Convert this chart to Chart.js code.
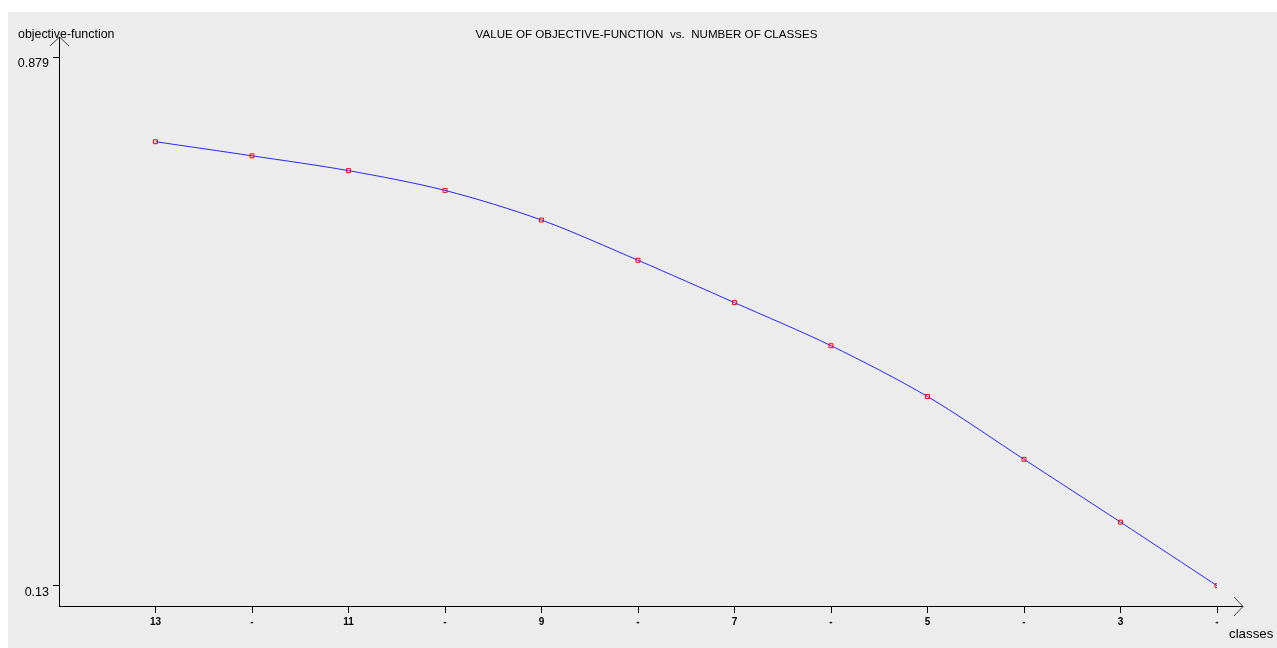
<!DOCTYPE html>
<html>
<head>
<meta charset="utf-8">
<script src="https://cdn.jsdelivr.net/npm/chart.js@4/dist/chart.umd.min.js"></script>
<style>
  html, body { margin: 0; padding: 0; background: #fff; }
  #wrap { position: absolute; left: 8px; top: 12px; width: 1269px; height: 636px; background: #ececec; }
</style>
</head>
<body>
<div id="wrap"><canvas id="objChart"></canvas></div>
<script>
// number of classes, from 13 down to 2
const classes = [13, 12, 11, 10, 9, 8, 7, 6, 5, 4, 3, 2];
const classLabels = ['13', '-', '11', '-', '9', '-', '7', '-', '5', '-', '3', '-'];
const objValues = [0.759, 0.739, 0.718, 0.690, 0.648, 0.591, 0.531, 0.470, 0.398, 0.309, 0.220, 0.130];
const yTicks = [0.13, 0.879];

const FONT = '"Liberation Sans", Arial, sans-serif';

// arrows, axis names and title drawn on top
const decorations = {
  id: 'decorations',
  afterDraw(chart) {
    const { ctx, chartArea: a } = chart;
    ctx.save();
    ctx.strokeStyle = '#000';
    ctx.lineWidth = 1;
    // extend axes to the arrow heads
    ctx.beginPath();
    ctx.moveTo(a.left + 0.5, a.top);
    ctx.lineTo(a.left + 0.5, 25);
    ctx.moveTo(a.right, a.bottom + 0.5);
    ctx.lineTo(1235, a.bottom + 0.5);
    ctx.stroke();
    ctx.strokeStyle = '#444';
    ctx.beginPath();
    ctx.moveTo(a.left - 9, 34);
    ctx.lineTo(a.left + 0.5, 25);
    ctx.lineTo(a.left + 10, 34);
    ctx.moveTo(1226, a.bottom - 9);
    ctx.lineTo(1235, a.bottom + 0.5);
    ctx.lineTo(1226, a.bottom + 10);
    ctx.stroke();

    ctx.fillStyle = '#000';
    ctx.textBaseline = 'middle';
    ctx.font = '12.4px ' + FONT;
    ctx.textAlign = 'left';
    ctx.fillText('objective-function', 10, 23);
    ctx.font = '13.3px ' + FONT;
    ctx.fillText('classes', 1221, 622);
    ctx.font = '11.6px ' + FONT;
    ctx.textAlign = 'center';
    ctx.fillText('VALUE OF OBJECTIVE-FUNCTION  vs.  NUMBER OF CLASSES', 638.5, 23);
    ctx.restore();
  }
};

new Chart(document.getElementById('objChart'), {
  type: 'line',
  data: {
    datasets: [{
      data: classes.map((c, i) => ({ x: i, y: objValues[i] })),
      borderColor: '#2626ff',
      borderWidth: 1,
      tension: 0.3,
      pointStyle: 'rect',
      pointRadius: 2.8,
      pointBorderColor: '#ff0000',
      pointBackgroundColor: 'rgba(0,0,0,0)',
      pointBorderWidth: 1
    }]
  },
  options: {
    responsive: true,
    maintainAspectRatio: false,
    animation: false,
    layout: { padding: { top: 45, right: 60, left: 0, bottom: 0 } },
    plugins: {
      legend: { display: false },
      tooltip: { enabled: false }
    },
    scales: {
      x: {
        type: 'linear',
        min: -1,
        max: 11,
        afterBuildTicks: (scale) => { scale.ticks = classes.map((c, i) => ({ value: i })); },
        afterFit: (scale) => { scale.height = 42; },
        border: { color: '#000', width: 1 },
        grid: { drawOnChartArea: false, color: '#000', tickLength: 7 },
        ticks: {
          color: '#000',
          padding: 3,
          maxRotation: 0,
          autoSkip: false,
          font: { family: FONT, size: 10, weight: 'bold' },
          callback: (v) => classLabels[v]
        }
      },
      y: {
        min: 0.1012,
        max: 0.879,
        afterBuildTicks: (scale) => { scale.ticks = yTicks.map(v => ({ value: v })); },
        afterFit: (scale) => { scale.width = 51; },
        border: { color: '#000', width: 1 },
        grid: { drawOnChartArea: false, color: '#000', tickLength: 6 },
        ticks: {
          color: '#000',
          padding: 4,
          labelOffset: 7,
          font: { family: FONT, size: 12.5 },
          callback: (v) => String(v)
        }
      }
    }
  },
  plugins: [decorations]
});
</script>
</body>
</html>
